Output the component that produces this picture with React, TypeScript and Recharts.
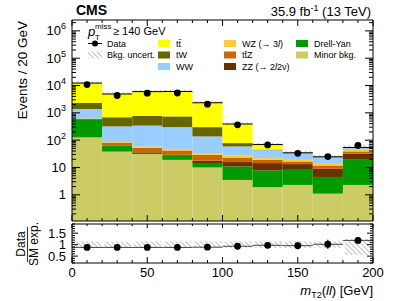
import React from "react";
import { ComposedChart, Bar, Scatter, ErrorBar, XAxis, YAxis } from "recharts";

const FONT = '"Liberation Sans", Arial, Helvetica, sans-serif';

// m_T2(ll) bins, 20 GeV wide
const BINS = ["0-20", "20-40", "40-60", "60-80", "80-100", "100-120", "120-140", "140-160", "160-180", "180-200"];
const BIN_CENTERS = [10, 30, 50, 70, 90, 110, 130, 150, 170, 190];

// expected events per process (stacked bottom -> top)
const MINOR_BKG = [126, 38, 31, 19, 10, 3.5, 1.9, 2.3, 1.1, 2.3];
const DRELL_YAN = [460, 23, 3, 8, 3.6, 7.4, 5.9, 5.9, 3.4, 18];
const ZZ = [5, 3, 2, 2, 4, 4.9, 6.7, 5.1, 4.4, 11.5];
const TTZ = [20, 17, 16, 13, 11.4, 7.4, 4.5, 3.3, 2.9, 6.8];
const WZ = [10, 5, 7, 6, 4.7, 3.8, 3, 2.4, 1.8, 5.9];
const WW = [760, 232, 281, 252, 103, 32, 21, 13.5, 10.4, 8];
const TW = [910, 372, 440, 440, 163, 19, 2, 0.8, 0.3, 0.5];
const TTBAR = [10000, 4210, 5200, 5320, 2040, 312, 24, 1.2, 0.3, 1];

// observed
const DATA = [10800, 4310, 5260, 5330, 2080, 363, 67, 33, 25, 64];
const DATA_ERR = [104, 66, 73, 73, 46, 19, 8.2, 5.7, 5, 8];

// relative background uncertainty band (as ratio to SM)
const UNC_LO = [0.86, 0.86, 0.86, 0.86, 0.86, 0.86, 0.86, 0.86, 0.86, 0.55];
const UNC_HI = [1.14, 1.14, 1.14, 1.14, 1.14, 1.14, 1.14, 1.14, 1.14, 1.25];

const X_TICKS = [0, 50, 100, 150, 200];
const X_ALL_TICKS = [0, 10, 20, 30, 40, 50, 60, 70, 80, 90, 100, 110, 120, 130, 140, 150, 160, 170, 180, 190, 200];
const Y_DOMAIN = [0.11, 2.5e6];
const Y_TICKS = [1, 10, 100, 1000, 10000, 100000, 1000000];
const R_DOMAIN = [0.2, 1.9];
const R_TICKS = [0.5, 1, 1.5];
const R_ALL_TICKS = [0.2, 0.3, 0.4, 0.5, 0.6, 0.7, 0.8, 0.9, 1, 1.1, 1.2, 1.3, 1.4, 1.5, 1.6, 1.7, 1.8, 1.9];

// log axis: majors + 2..9 minors
const Y_ALL_TICKS: number[] = [];
for (let d = 0.1; d < 3e6; d *= 10) {
  for (let k = 1; k <= 9; k++) {
    const v = +(d * k).toPrecision(3);
    if (v > Y_DOMAIN[0] && v < Y_DOMAIN[1]) Y_ALL_TICKS.push(v);
  }
}

const STACK = [
  { key: "minor", values: MINOR_BKG, color: "#cccc66" },
  { key: "dy", values: DRELL_YAN, color: "#009900" },
  { key: "zz", values: ZZ, color: "#663300" },
  { key: "ttz", values: TTZ, color: "#cc6600" },
  { key: "wz", values: WZ, color: "#ffcc33" },
  { key: "ww", values: WW, color: "#99ccff" },
  { key: "tw", values: TW, color: "#666600" },
  { key: "tt", values: TTBAR, color: "#ffff00" }
];

const Y_FLOOR = 0.01;

const rows = BINS.map((bin, i) => {
  const row: any = { bin, center: BIN_CENTERS[i] };
  let sum = 0;
  STACK.forEach((s) => {
    const lo = sum === 0 ? Y_FLOOR : sum;
    sum += s.values[i];
    row[s.key] = [lo, sum];
  });
  row.total = sum;
  row.band = [sum * UNC_LO[i], sum * UNC_HI[i]];
  row.topLine = [sum / 1.002, sum * 1.002];
  row.data = DATA[i];
  row.dataErr = DATA_ERR[i];
  row.ratio = DATA[i] / sum;
  row.ratioErr = DATA_ERR[i] / sum;
  row.rband = [UNC_LO[i], UNC_HI[i]];
  row.half = 10;
  return row;
});

const isMajor = (v: number, majors: number[]) => majors.some((m) => Math.abs(m - v) < 1e-9 * Math.max(1, m));

// y ticks drawn inward from the frame; labels only on the left majors
function YTick(props: any) {
  const { x, y, payload, majors, side, majorLen, minorLen, log } = props;
  const v = payload.value;
  const major = isMajor(v, majors);
  const len = major ? majorLen : minorLen;
  const x2 = side === "left" ? x + len : x - len;
  let label: React.ReactNode = null;
  if (side === "left" && major) {
    const exp = Math.round(Math.log10(v));
    label = (
      <text x={x - 6} y={y} dy={4.5} textAnchor="end" fontSize={13} fontFamily={FONT} fill="#000">
        {log && exp > 1 ? (
          <>
            <tspan>10</tspan>
            <tspan dy={-6} fontSize={9}>{exp}</tspan>
          </>
        ) : (
          String(v)
        )}
      </text>
    );
  }
  return (
    <g>
      <line x1={x} x2={x2} y1={y} y2={y} stroke="#000" strokeWidth={1} />
      {label}
    </g>
  );
}

function XTick(props: any) {
  const { x, y, payload, side, majorLen, minorLen, labels } = props;
  const v = payload.value;
  const major = isMajor(v, X_TICKS);
  const len = major ? majorLen : minorLen;
  const y2 = side === "bottom" ? y - len : y + len;
  return (
    <g>
      <line x1={x} x2={x} y1={y} y2={y2} stroke="#000" strokeWidth={1} />
      {labels && major ? (
        <text x={x} y={y + 14} textAnchor="middle" fontSize={13} fontFamily={FONT} fill="#000">
          {v}
        </text>
      ) : null}
    </g>
  );
}

const LineShape = (p: any) => (
  <line x1={p.x} x2={p.x + p.width} y1={p.y + p.height / 2} y2={p.y + p.height / 2} stroke="#000" strokeWidth={1} />
);

const Dot = (p: any) => <circle cx={p.cx} cy={p.cy} r={3.4} fill="#000" />;
const Empty = () => <g />;

const frameX = {
  type: "number" as const,
  domain: [0, 200],
  allowDataOverflow: true,
  ticks: X_ALL_TICKS,
  interval: 0 as const,
  tickLine: false,
  tickSize: 0,
  tickMargin: 0,
  height: 1,
  stroke: "#000"
};

function MainPanel() {
  const yProps = {
    scale: "log" as const,
    domain: Y_DOMAIN,
    allowDataOverflow: true,
    ticks: Y_ALL_TICKS,
    interval: 0 as const,
    tickLine: false,
    tickSize: 0,
    tickMargin: 0,
    stroke: "#000"
  };
  return (
    <ComposedChart
      width={399}
      height={230}
      data={rows}
      margin={{ top: 19, right: 0, bottom: 8, left: 0 }}
      barSize={30.1}
      barGap={-30.1}
      barCategoryGap={0}
    >
      <XAxis xAxisId="x" dataKey="center" {...frameX} tick={<XTick side="bottom" majorLen={6} minorLen={3} />} />
      <XAxis xAxisId="xt" dataKey="center" orientation="top" {...frameX} tick={<XTick side="top" majorLen={6} minorLen={3} />} />
      <XAxis xAxisId="cat" dataKey="bin" type="category" hide height={0} />
      <YAxis yAxisId="y" {...yProps} width={72} tick={<YTick side="left" majors={Y_TICKS} majorLen={8} minorLen={4} log />} />
      <YAxis yAxisId="yr" orientation="right" {...yProps} width={26} tick={<YTick side="right" majors={Y_TICKS} majorLen={8} minorLen={4} />} />

      <Bar xAxisId="cat" yAxisId="y" dataKey="band" fill="url(#hatch)" isAnimationActive={false} />
      {STACK.map((s) => (
        <Bar key={s.key} xAxisId="cat" yAxisId="y" dataKey={s.key} fill={s.color} isAnimationActive={false} />
      ))}
      <Bar xAxisId="cat" yAxisId="y" dataKey="topLine" shape={LineShape} isAnimationActive={false} />
      <Scatter xAxisId="x" yAxisId="y" dataKey="data" shape={Dot} isAnimationActive={false}>
        <ErrorBar dataKey="dataErr" direction="y" width={0} stroke="#000" strokeWidth={1} />
      </Scatter>
      <Scatter xAxisId="xt" yAxisId="yr" dataKey="data" shape={Empty} isAnimationActive={false} />
    </ComposedChart>
  );
}

function RatioPanel() {
  const yProps = {
    domain: R_DOMAIN,
    allowDataOverflow: true,
    ticks: R_ALL_TICKS,
    interval: 0 as const,
    tickLine: false,
    tickSize: 0,
    tickMargin: 0,
    stroke: "#000"
  };
  return (
    <ComposedChart
      width={399}
      height={86}
      data={rows}
      margin={{ top: 8, right: 0, bottom: 37, left: 0 }}
      barSize={30.1}
      barGap={-30.1}
      barCategoryGap={0}
    >
      <XAxis xAxisId="x" dataKey="center" {...frameX} tick={<XTick side="bottom" majorLen={6} minorLen={3} labels />} />
      <XAxis xAxisId="xt" dataKey="center" orientation="top" {...frameX} tick={<XTick side="top" majorLen={4} minorLen={2} />} />
      <XAxis xAxisId="cat" dataKey="bin" type="category" hide height={0} />
      <YAxis yAxisId="y" {...yProps} width={72} tick={<YTick side="left" majors={R_TICKS} majorLen={6} minorLen={3} />} />
      <YAxis yAxisId="yr" orientation="right" {...yProps} width={26} tick={<YTick side="right" majors={R_TICKS} majorLen={6} minorLen={3} />} />

      <Bar xAxisId="cat" yAxisId="y" dataKey="rband" fill="url(#hatch)" isAnimationActive={false} />
      <Scatter xAxisId="x" yAxisId="y" dataKey="ratio" shape={Dot} isAnimationActive={false}>
        <ErrorBar dataKey="half" direction="x" width={0} stroke="#444" strokeWidth={1} />
        <ErrorBar dataKey="ratioErr" direction="y" width={0} stroke="#000" strokeWidth={1} />
      </Scatter>
      <Scatter xAxisId="xt" yAxisId="yr" dataKey="ratio" shape={Empty} isAnimationActive={false} />
    </ComposedChart>
  );
}

const Italic = ({ children }: { children: React.ReactNode }) => <tspan fontStyle="italic">{children}</tspan>;

const LEGEND_ROWS = [43.5, 55, 66.5];
const LEGEND_BOXES = [
  { col: 158, row: 0, color: "#ffff00", label: <>tt̄</> },
  { col: 158, row: 1, color: "#666600", label: <>tW</> },
  { col: 158, row: 2, color: "#99ccff", label: <>WW</> },
  { col: 224, row: 0, color: "#ffcc33", label: <>WZ (→ 3<Italic>l</Italic>)</> },
  { col: 224, row: 1, color: "#cc6600", label: <>tt̄Z</> },
  { col: 224, row: 2, color: "#663300", label: <>ZZ (→ 2<Italic>l</Italic>2ν)</> },
  { col: 296, row: 0, color: "#009900", label: <>Drell-Yan</> },
  { col: 296, row: 1, color: "#cccc66", label: <>Minor bkg.</> }
];

function Overlay() {
  return (
    <svg width={399} height={301} style={{ position: "absolute", left: 0, top: 0, pointerEvents: "none" }} fontFamily={FONT}>
      <defs>
        <pattern id="hatch" width="3.5" height="3.5" patternUnits="userSpaceOnUse" patternTransform="rotate(-45)">
          <line x1="0" y1="0" x2="0" y2="3.5" stroke="#8a8a8a" strokeWidth="1.1" />
        </pattern>
      </defs>

      <text x={76} y={15} fontSize={14} fontWeight="bold" fill="#000">CMS</text>
      <text x={371} y={16} fontSize={13} textAnchor="end" fill="#000">
        35.9 fb<tspan dy={-5} fontSize={9}>-1</tspan>
        <tspan dy={5}> (13 TeV)</tspan>
      </text>

      <text transform="translate(27,21) rotate(-90)" textAnchor="end" fontSize={13.5} fill="#000">
        Events / 20 GeV
      </text>

      <text transform="translate(25,244) rotate(-90)" textAnchor="middle" fontSize={12} fill="#000">Data</text>
      <line x1={27.5} x2={27.5} y1={227} y2={262} stroke="#000" strokeWidth={0.8} />
      <text transform="translate(38,244) rotate(-90)" textAnchor="middle" fontSize={12} fill="#000">SM exp.</text>

      <text x={373} y={295} textAnchor="end" fontSize={13} fill="#000">
        <Italic>m</Italic>
        <tspan fontSize={9} dy={3}>T2</tspan>
        <tspan dy={-3}>(</tspan>
        <Italic>ll</Italic>
        <tspan>) [GeV]</tspan>
      </text>

      <text x={88} y={36} fontSize={13} fontStyle="italic" fill="#000">p</text>
      <text x={95} y={29} fontSize={8} fill="#000">miss</text>
      <text x={95} y={40} fontSize={8} fill="#000">T</text>
      <text x={113} y={35} fontSize={11} fill="#000">≥ 140 GeV</text>

      <line x1={88} x2={102} y1={LEGEND_ROWS[0]} y2={LEGEND_ROWS[0]} stroke="#000" />
      <circle cx={95} cy={LEGEND_ROWS[0]} r={3} fill="#000" />
      <text x={107} y={LEGEND_ROWS[0] + 3} fontSize={9} fill="#000">Data</text>
      <rect x={88} y={LEGEND_ROWS[1] - 3.5} width={14} height={7} fill="url(#hatch)" />
      <text x={107} y={LEGEND_ROWS[1] + 3} fontSize={9} fill="#000">Bkg. uncert.</text>

      {LEGEND_BOXES.map((b, i) => (
        <g key={i}>
          <rect x={b.col} y={LEGEND_ROWS[b.row] - 3.5} width={12} height={7} fill={b.color} />
          <text x={b.col + 18} y={LEGEND_ROWS[b.row] + 3} fontSize={9} fill="#000">{b.label}</text>
        </g>
      ))}
    </svg>
  );
}

export default function App() {
  return (
    <div style={{ position: "absolute", left: 0, top: 0, width: 399, height: 301, background: "#fff", fontFamily: FONT }}>
      <div style={{ position: "absolute", left: 0, top: 0 }}>
        <MainPanel />
      </div>
      <div style={{ position: "absolute", left: 0, top: 215 }}>
        <RatioPanel />
      </div>
      <Overlay />
    </div>
  );
}
